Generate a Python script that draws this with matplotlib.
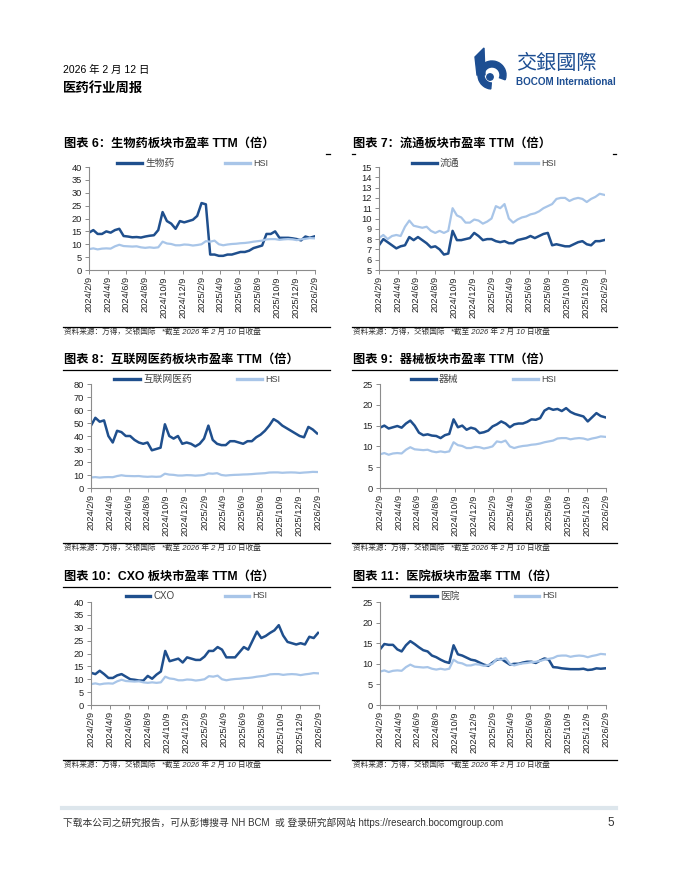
import pandas as pd
import matplotlib
matplotlib.use('Agg')
import matplotlib.pyplot as plt
from matplotlib.patches import Wedge, Circle, Polygon

plt.rcParams['font.family'] = ['Liberation Sans', 'Noto Sans CJK SC']

# biweekly observations, 2024/2/9 .. 2026/2
dates = pd.date_range('2024-02-09', periods=53, freq='14D')
tick_dates = pd.to_datetime(['2024-02-09', '2024-04-09', '2024-06-09', '2024-08-09',
                             '2024-10-09', '2024-12-09', '2025-02-09', '2025-04-09',
                             '2025-06-09', '2025-08-09', '2025-10-09', '2025-12-09',
                             '2026-02-09'])
tick_labels = [f'{d.year}/{d.month}/{d.day}' for d in tick_dates]

hsi = [8.1, 8.4, 8.0, 8.3, 8.4, 8.3, 9.2, 9.8, 9.3, 9.2, 9.1, 9.2, 8.8, 8.6,
       8.8, 8.6, 8.8, 11.0, 10.3, 10.1, 9.6, 9.6, 9.9, 9.8, 9.5, 9.7, 10.0,
       11.2, 11.0, 11.4, 10.0, 9.6, 9.9, 10.1, 10.2, 10.4, 10.5, 10.7, 11.0,
       11.2, 11.4, 11.9, 12.0, 12.0, 11.7, 11.9, 12.0, 11.9, 11.6, 11.9, 12.1,
       12.4, 12.3]

biotech = [14.5, 15.5, 14.0, 14.0, 15.0, 14.5, 15.5, 16.0, 13.2, 13.0, 12.7,
           12.8, 12.6, 13.0, 13.3, 13.5, 15.5, 22.5, 19.0, 18.0, 16.0, 19.0,
           18.5, 19.0, 19.5, 21.0, 26.0, 25.5, 6.0, 6.0, 5.5, 5.5, 6.0, 6.0,
           6.5, 7.0, 7.0, 7.5, 8.5, 9.0, 9.5, 14.0, 14.0, 15.0, 12.5, 12.5,
           12.5, 12.3, 12.0, 11.5, 13.0, 12.5, 13.0]

distribution = [7.4, 8.0, 7.7, 7.4, 7.1, 7.3, 7.4, 8.2, 7.9, 8.2, 7.9, 7.6, 7.2,
                7.3, 7.0, 6.5, 6.6, 8.8, 7.9, 7.9, 8.0, 8.1, 8.6, 8.3, 7.9, 8.0,
                8.0, 7.8, 7.7, 7.8, 7.6, 7.6, 7.9, 8.0, 8.1, 8.3, 8.1, 8.3, 8.5,
                8.6, 7.4, 7.5, 7.4, 7.3, 7.3, 7.5, 7.7, 7.8, 7.5, 7.4, 7.8, 7.8,
                7.9]

internet = [48, 54, 51, 52, 40, 35, 44, 43, 40, 40, 37, 35, 34, 35, 29, 30, 31,
            49, 40, 38, 40, 34, 35, 34, 32, 34, 38, 48, 37, 34, 33, 33, 36, 36,
            35, 34, 36, 36, 39, 41, 44, 48, 53, 51, 48, 46, 44, 42, 40, 39, 47,
            45, 42]

devices = [14.5, 15.0, 14.3, 14.6, 14.9, 14.5, 15.5, 16.2, 15.0, 13.3, 12.7,
           12.9, 12.6, 12.5, 12.0, 12.7, 13.0, 16.5, 14.6, 15.0, 14.0, 14.5,
           14.2, 13.2, 13.4, 13.8, 14.8, 15.3, 16.0, 15.5, 14.6, 15.3, 15.5,
           15.5, 15.9, 16.5, 16.4, 16.8, 18.6, 19.2, 18.8, 19.0, 18.5, 19.2,
           18.3, 17.8, 17.5, 17.2, 16.0, 17.0, 18.0, 17.3, 17.0]

cxo = [12.5, 12.0, 13.3, 12.0, 10.5, 10.5, 11.5, 12.0, 11.0, 10.0, 9.8, 9.5,
       9.5, 11.3, 10.2, 11.8, 13.0, 21.0, 17.0, 17.5, 18.0, 16.5, 18.5, 18.0,
       17.5, 17.5, 18.8, 21.0, 21.0, 22.5, 21.5, 18.5, 18.5, 18.5, 20.5, 22.5,
       21.5, 25.0, 28.5, 26.0, 26.8, 28.0, 29.0, 31.0, 27.0, 24.5, 24.0, 23.5,
       24.0, 23.5, 26.5, 26.0, 28.0]

hospital = [13.5, 14.8, 14.6, 14.6, 13.5, 13.0, 14.5, 15.5, 14.8, 14.0, 13.3,
            13.0, 12.0, 11.6, 11.0, 10.5, 10.2, 14.5, 12.3, 12.0, 11.5, 11.0,
            10.8, 10.3, 9.8, 9.5, 10.3, 11.0, 11.2, 10.5, 9.8, 10.0, 10.0,
            10.3, 10.5, 10.5, 10.2, 10.8, 11.3, 11.0, 9.2, 9.1, 8.9, 8.8, 8.7,
            8.7, 8.7, 8.8, 8.5, 8.6, 8.9, 8.8, 8.9]

DARK = '#1f4f8d'
LIGHT = '#a8c5e8'
AXIS = '#8c8c8c'
TXT = '#222222'
W, H = 680, 880
SOURCE = '资料来源：万得，交银国际   *截至 2026 年 2 月 10 日收盘'

fig = plt.figure(figsize=(W / 100, H / 100), dpi=100)
page = fig.add_axes([0, 0, 1, 1])
page.set_xlim(0, W)
page.set_ylim(H, 0)
page.axis('off')


def box(x0, y0, x1, y1):
    return [x0 / W, 1 - y1 / H, (x1 - x0) / W, (y1 - y0) / H]


def pe_chart(rect, series, name, ylim, step, title, col, top, lines, legend):
    ax = fig.add_axes(box(*rect))
    ax.plot(dates, series, color=DARK, lw=1.8, solid_joinstyle='round')
    ax.plot(dates, hsi, color=LIGHT, lw=1.6, solid_joinstyle='round')
    ax.set_ylim(*ylim)
    ax.set_yticks(range(ylim[0], ylim[1] + 1, step))
    ax.set_xlim(dates[0], tick_dates[-1])
    ax.set_xticks(tick_dates)
    ax.set_xticklabels(tick_labels, rotation=90)
    for s in ['top', 'right']:
        ax.spines[s].set_visible(False)
    for s in ['left', 'bottom']:
        ax.spines[s].set_color(AXIS)
        ax.spines[s].set_linewidth(0.8)
    ax.tick_params(axis='both', colors=AXIS, labelcolor=TXT, labelsize=6.7,
                   length=3, width=0.7)
    ax.tick_params(axis='y', pad=2)
    ax.tick_params(axis='x', pad=1.5)
    ax.patch.set_alpha(0)

    x_left = 63 if col == 0 else 352
    x_right = 330 if col == 0 else 617
    page.text(x_left + 1, top, title, fontsize=8.8, fontweight='bold',
              color='black', va='center', ha='left')
    for seg in lines:
        page.plot(seg, [top + 10, top + 10], color='black', lw=0.9)
    page.plot([x_left, x_right], [top + 183, top + 183], color='black', lw=0.9)
    page.text(x_left + 1, top + 189, SOURCE, fontsize=5.5, style='italic',
              color='#333333', va='center', ha='left')

    (a0, a1), (b0, b1) = legend
    ly = top + 19
    page.plot([a0, a1], [ly, ly], color=DARK, lw=2.4)
    page.text(a1 + 3, ly, name, fontsize=7, color='#444444', va='center',
              fontweight='light')
    page.plot([b0, b1], [ly, ly], color=LIGHT, lw=2.4)
    page.text(b1 + 3, ly, 'HSI', fontsize=6.5, color='#444444', va='center')
    return ax


pe_chart((89, 167, 315, 270), biotech, '生物药', (0, 40), 5,
         '图表 6：生物药板块市盈率 TTM（倍）', 0, 144,
         [[326, 330]], ((117, 142), (225, 250)))
pe_chart((379, 167, 605, 270), distribution, '流通', (5, 15), 1,
         '图表 7：流通板块市盈率 TTM（倍）', 1, 144,
         [[352, 355], [613, 616]], ((412, 437), (515, 538)))
pe_chart((91, 384, 318, 488), internet, '互联网医药', (0, 80), 10,
         '图表 8：互联网医药板块市盈率 TTM（倍）', 0, 360,
         [[63, 330]], ((114, 140), (237, 262)))
pe_chart((380, 384, 606, 488), devices, '器械', (0, 25), 5,
         '图表 9：器械板块市盈率 TTM（倍）', 1, 360,
         [[352, 617]], ((411, 436), (513, 538)))
pe_chart((91, 602, 319, 705), cxo, 'CXO', (0, 40), 5,
         '图表 10：CXO 板块市盈率 TTM（倍）', 0, 577,
         [[63, 330]], ((126, 150), (225, 249)))
pe_chart((380, 602, 606, 705), hospital, '医院', (0, 25), 5,
         '图表 11：医院板块市盈率 TTM（倍）', 1, 577,
         [[352, 617]], ((411, 437), (515, 539)))

# header
page.text(63, 70, '2026 年 2 月 12 日', fontsize=7.5, color='black', va='center')
page.text(63, 88, '医药行业周报', fontsize=9.6, fontweight='bold', color='black',
          va='center')

# logo
LOGO = '#1d4e92'
page.add_patch(Wedge((492, 75), 14, 95, 20, width=6, color=LOGO))
page.add_patch(Polygon([[475, 57], [484, 48], [485, 75], [477, 75]], color=LOGO))
page.add_patch(Circle((490, 77), 3.2, color=LOGO))
page.text(516, 63, '交銀國際', fontsize=14.5, color=LOGO, va='center',
          family=['Noto Sans CJK TC'])
page.text(516, 82, 'BOCOM International', fontsize=7.1, fontweight='bold',
          color=LOGO, va='center')

# footer
page.plot([62, 616], [808, 808], color='#dde6ec', lw=3)
page.text(63, 823, '下载本公司之研究报告，可从彭博搜寻 NH BCM  或 登录研究部网站 '
          'https://research.bocomgroup.com', fontsize=7, color='#333333',
          va='center')
page.text(614, 823, '5', fontsize=8.5, color='#333333', va='center', ha='right')

fig.savefig('out.png', dpi=100)
